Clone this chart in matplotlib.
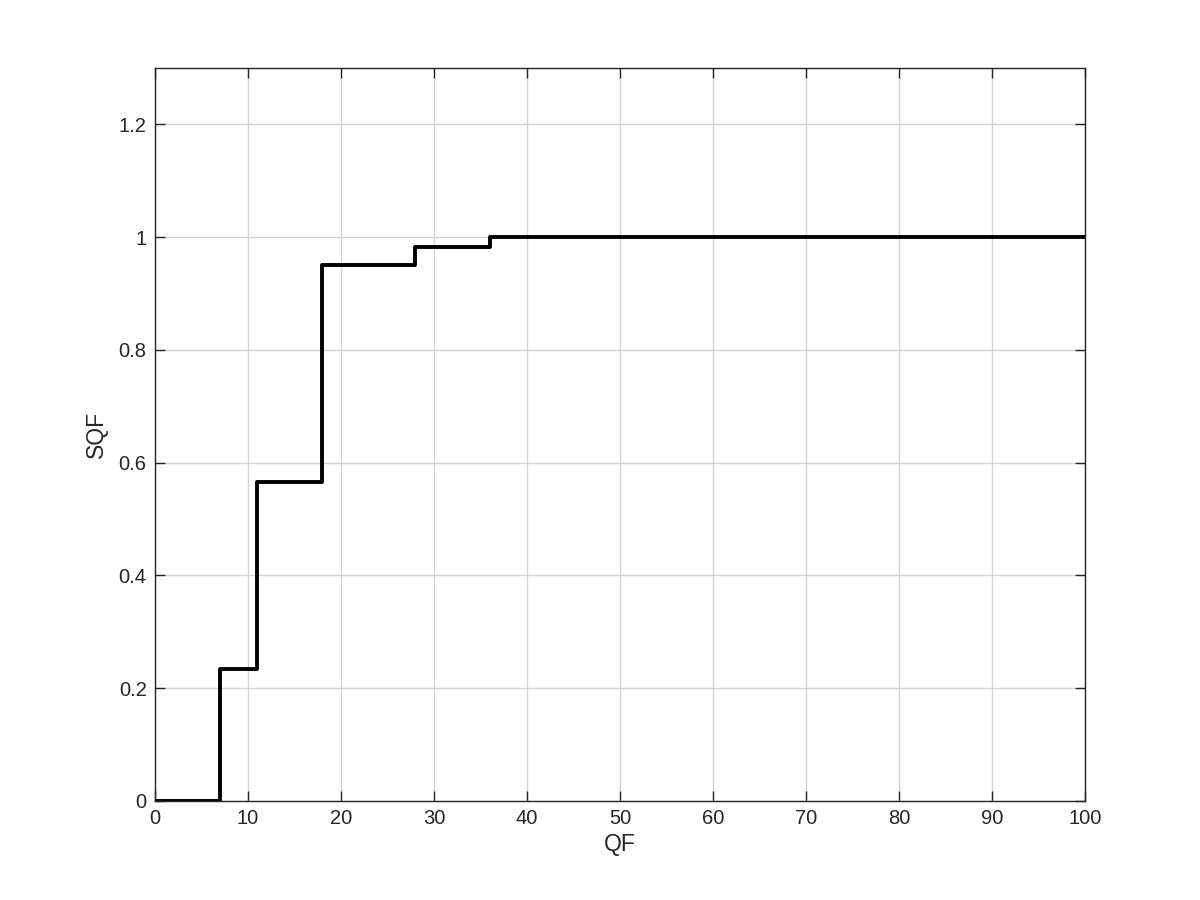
import matplotlib
matplotlib.use("Agg")
import matplotlib.pyplot as plt

qf = [0, 7, 11, 18, 28, 36, 100]
sqf = [0, 0.234, 0.565, 0.951, 0.983, 1.0, 1.0]

plt.rcParams['font.family'] = ['Liberation Sans', 'DejaVu Sans']
fig = plt.figure(figsize=(12, 9), dpi=100)
ax = fig.add_axes([0.1292, 0.11, 0.775, 0.8144])
ax.step(qf, sqf, where='post', color='black', linewidth=2.8)
ax.set_xlim(0, 100)
ax.set_ylim(0, 1.3)
ax.set_xticks(range(0, 101, 10))
ax.set_yticks([0, 0.2, 0.4, 0.6, 0.8, 1.0, 1.2])
ax.set_yticklabels(['0', '0.2', '0.4', '0.6', '0.8', '1', '1.2'])
ax.grid(True, color='#d4d4d4', linewidth=1.0)
ax.set_axisbelow(True)
ax.tick_params(direction='in', top=True, right=True, length=7, width=1.0,
               labelsize=14.5, colors='#262626')
ax.tick_params(axis='x', pad=6)
ax.tick_params(axis='y', pad=6)
for s in ax.spines.values():
    s.set_color('#262626')
    s.set_linewidth(1.0)
ax.set_xlabel('QF', fontsize=16.5, color='#262626', labelpad=3)
ax.set_ylabel('SQF', fontsize=16.5, color='#262626', labelpad=8)
fig.savefig('out.png', dpi=100)
